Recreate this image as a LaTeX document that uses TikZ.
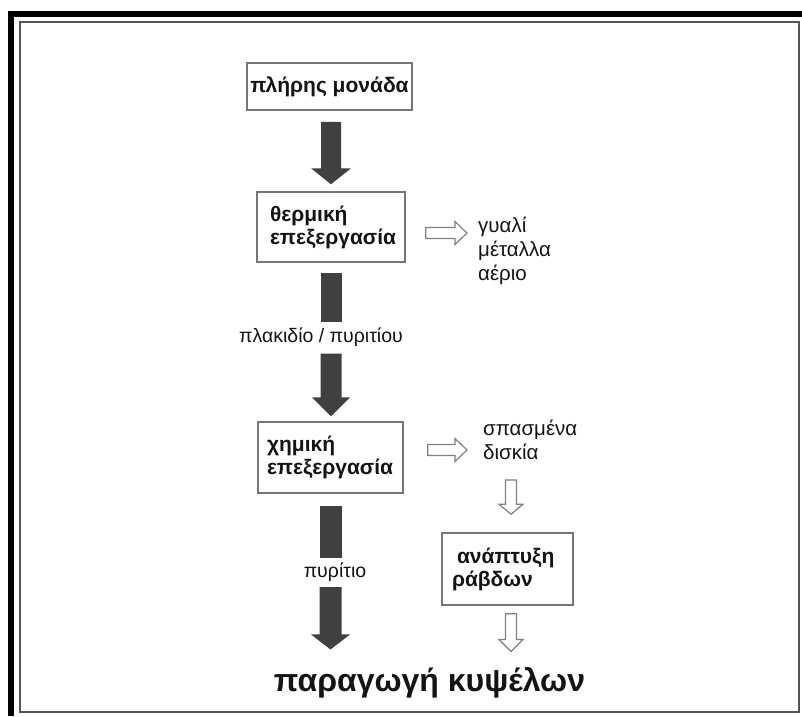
\documentclass[tikz,border=0pt]{standalone}
\usepackage{fontspec}
\setmainfont{Liberation Sans}
\usetikzlibrary{calc}

\definecolor{arrowdark}{HTML}{404040}
\definecolor{boxline}{HTML}{767676}
\definecolor{hollowline}{HTML}{808080}
\definecolor{framegray}{HTML}{555555}
\definecolor{inktext}{HTML}{141414}

\newcommand\boxfont{\fontsize{21}{23}\selectfont\bfseries}
\newcommand\notefont{\fontsize{20.5}{24}\selectfont}
\newcommand\labelfont{\fontsize{19.5}{24}\selectfont}
\newcommand\titlefont{\fontsize{32}{36}\selectfont\bfseries}

\tikzset{
  % geometry parameters for the drawn block arrows
  ar shaft/.store in=\arShaft, ar head/.store in=\arHead,
  ar headlen/.store in=\arHeadLen, ar gapa/.store in=\arGapA,
  ar gapb/.store in=\arGapB, ar off/.store in=\arOff,
  ar shaft=10pt, ar head=20pt, ar headlen=16pt,
  ar gapa=0pt, ar gapb=0pt, ar off=0pt,
  % downward block arrow, x taken from the start point
  down geom/.style={to path={
    let \p1=(\tikztostart), \p2=(\tikztotarget) in
    ({\x1+\arOff-\arShaft},{\y1-\arGapA}) --
    ({\x1+\arOff-\arShaft},{\y2+\arGapB+\arHeadLen}) --
    ({\x1+\arOff-\arHead},{\y2+\arGapB+\arHeadLen}) --
    ({\x1+\arOff},{\y2+\arGapB}) --
    ({\x1+\arOff+\arHead},{\y2+\arGapB+\arHeadLen}) --
    ({\x1+\arOff+\arShaft},{\y2+\arGapB+\arHeadLen}) --
    ({\x1+\arOff+\arShaft},{\y1-\arGapA}) -- cycle}},
  % plain vertical bar, x taken from the start point
  bar geom/.style={to path={
    let \p1=(\tikztostart), \p2=(\tikztotarget) in
    ({\x1+\arOff-\arShaft},{\y1-\arGapA}) rectangle
    ({\x1+\arOff+\arShaft},{\y2+\arGapB})}},
  % rightward block arrow, y taken from the start point
  right geom/.style={to path={
    let \p1=(\tikztostart), \p2=(\tikztotarget) in
    ({\x1+\arGapA},{\y1+\arOff+\arShaft}) --
    ({\x2-\arGapB-\arHeadLen},{\y1+\arOff+\arShaft}) --
    ({\x2-\arGapB-\arHeadLen},{\y1+\arOff+\arHead}) --
    ({\x2-\arGapB},{\y1+\arOff}) --
    ({\x2-\arGapB-\arHeadLen},{\y1+\arOff-\arHead}) --
    ({\x2-\arGapB-\arHeadLen},{\y1+\arOff-\arShaft}) --
    ({\x1+\arGapA},{\y1+\arOff-\arShaft}) -- cycle}},
  solid arrow/.style={fill=arrowdark},
  hollow arrow/.style={draw=hollowline, fill=white, line width=1.2pt,
    line join=miter, ar shaft=5.5pt, ar head=11.5pt, ar headlen=12pt},
  stagebox/.style={draw=boxline, line width=1.5pt, fill=white,
    text=inktext, font=\boxfont, inner ysep=0pt},
  note/.style={inner sep=0pt, text=inktext, font=\notefont, align=left},
}

\begin{document}
\begin{tikzpicture}[x=1pt, y=-1pt]
  \useasboundingbox (0,0) rectangle (802,716);

  % page frame: heavy black edge on top and left, thin grey box inside
  \fill[black] (8,11) rectangle (802,17);
  \fill[black] (8,11) rectangle (14,716);
  \draw[framegray, line width=2pt] (19.5,22) rectangle (798.5,712);

  % process stages
  \node[stagebox, minimum width=165pt, minimum height=47pt, inner xsep=0pt]
    (b1) at (329.5,86.5) {πλήρης μονάδα};
  \node[stagebox, minimum height=70pt, text width=122pt, inner xsep=13pt, align=left]
    (b2) at (331,227) {θερμική\\επεξεργασία};
  \node[stagebox, minimum height=71pt, text width=127pt, inner xsep=9pt, align=left]
    (b3) at (330.5,457.5) {χημική\\επεξεργασία};
  \node[stagebox, minimum height=72pt, text width=111pt, inner xsep=10pt, align=left]
    (b4) at (507.5,569) {\hspace*{5pt}ανάπτυξη\\ράβδων};

  % by-products and intermediate materials
  \node[note, anchor=west] (out1) at (478,251) {γυαλί\\μέταλλα\\αέριο};
  \node[note, anchor=west] (out2) at (483,440) {σπασμένα\\δισκία};
  \node[note, font=\labelfont] (lab1) at (321,337) {πλακιδίο / πυριτίου};
  \node[note, font=\labelfont] (pyr) at (335,572) {πυρίτιο};
  \node[inner sep=0pt, text=inktext, font=\titlefont] (title) at (429.5,683)
    {παραγωγή κυψέλων};

  % main flow
  \path[solid arrow, down geom, ar gapa=11pt, ar gapb=7pt, ar headlen=16pt, ar head=20pt]
    (b1.south -| b2.north) to (b2.north);
  \path[solid arrow, bar geom, ar shaft=10.5pt, ar gapa=10pt, ar gapb=5pt]
    (b2.south) to (lab1.north);
  \path[solid arrow, down geom, ar shaft=10.5pt, ar gapa=7pt, ar gapb=5pt, ar headlen=19pt, ar head=19pt]
    (lab1.south -| b2.south) to (b3.north);
  \path[solid arrow, bar geom, ar shaft=11pt, ar gapa=12pt, ar gapb=4.5pt]
    (b3.south) to (pyr.north);
  \path[solid arrow, down geom, ar shaft=11pt, ar gapa=5.5pt, ar gapb=18pt, ar headlen=15pt, ar head=19.5pt]
    (pyr.south -| b3.south) to (title.north);

  % side flow
  \path[hollow arrow, right geom, ar gapa=20pt, ar gapb=11pt, ar off=-6pt]
    (b2.east) to (out1.west);
  \path[hollow arrow, right geom, ar gapa=24pt, ar gapb=16pt, ar off=7.5pt]
    (b3.east) to (out2.west);
  \path[hollow arrow, down geom, ar gapa=20pt, ar gapb=18pt, ar off=3.5pt,
        ar head=12pt, ar headlen=10pt]
    (out2.south -| b4.north) to (b4.north);
  \path[hollow arrow, down geom, ar gapa=8pt, ar gapb=16pt, ar off=3.5pt,
        ar head=12pt, ar headlen=12pt]
    (b4.south) to (title.north);
\end{tikzpicture}
\end{document}
